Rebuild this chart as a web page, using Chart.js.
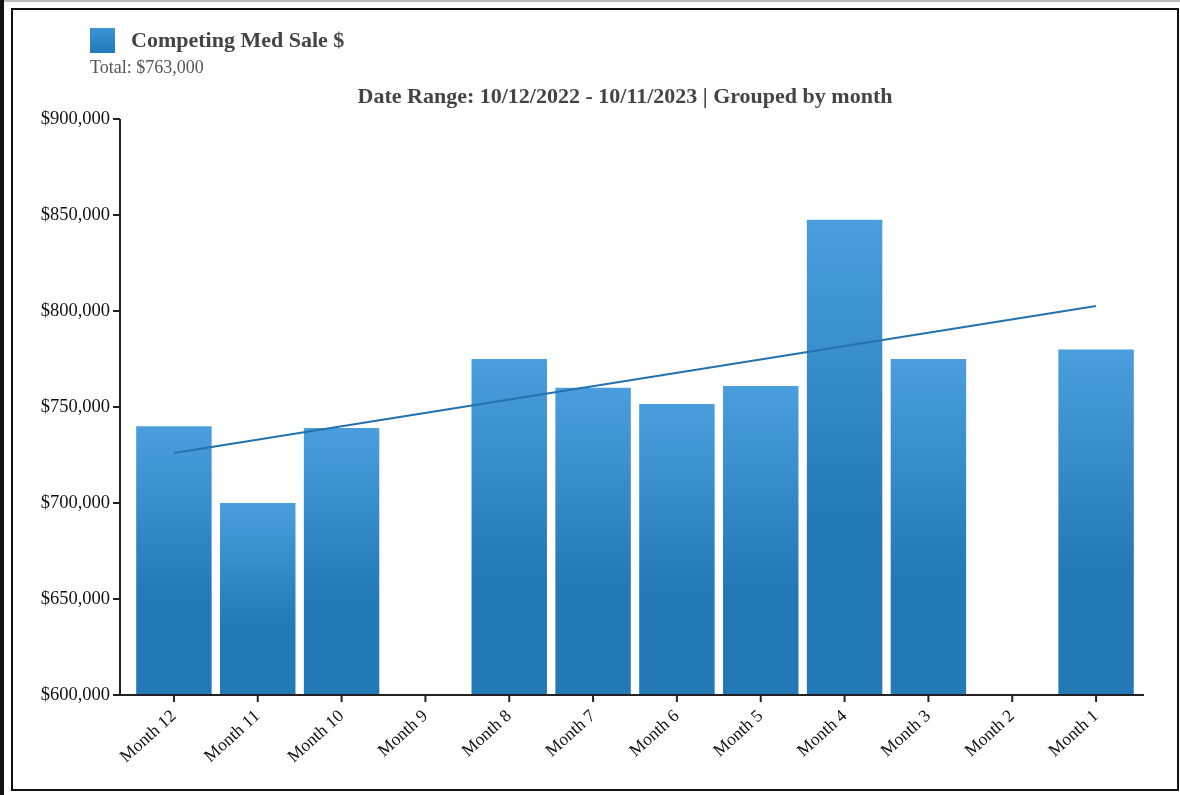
<!DOCTYPE html>
<html>
<head>
<meta charset="utf-8">
<script src="https://cdn.jsdelivr.net/npm/chart.js@4.4.1/dist/chart.umd.min.js"></script>
<style>
  html, body { margin: 0; padding: 0; background: #fff; }
  body { width: 1180px; height: 795px; position: relative; overflow: hidden; font-family: "Liberation Serif", "Times New Roman", serif; }
  #leftbar { position: absolute; left: 0; top: 0; width: 4px; height: 795px; background: #111; }
  #topline { position: absolute; left: 0; top: 0; width: 1180px; height: 2px; background: #bbb; }
  #frame { position: absolute; left: 11px; top: 8px; width: 1164px; height: 779px; border: 2px solid #111; }
  #chart { position: absolute; left: 0; top: 0; }
  .legend { position: absolute; left: 90px; top: 27px; display: flex; align-items: center; }
  .legend .box { width: 25px; height: 25px; background: linear-gradient(#3c94d6, #2279b8); margin-right: 16px; }
  .legend .name { font-weight: bold; font-size: 22px; color: #444; }
  .total { position: absolute; left: 90px; top: 57px; font-size: 18px; color: #555; }
  .range { position: absolute; left: 0; width: 1250px; top: 83px; text-align: center; font-weight: bold; font-size: 22px; color: #444; }
</style>
</head>
<body>
<div id="topline"></div>
<div id="leftbar"></div>
<div id="frame"></div>
<canvas id="chart" width="1180" height="795"></canvas>
<div class="legend"><div class="box"></div><div class="name">Competing Med Sale $</div></div>
<div class="total">Total: $763,000</div>
<div class="range">Date Range: 10/12/2022 - 10/11/2023 | Grouped by month</div>
<script>
const months = ["Month 12", "Month 11", "Month 10", "Month 9", "Month 8", "Month 7",
                "Month 6", "Month 5", "Month 4", "Month 3", "Month 2", "Month 1"];
const sales = [740000, 700000, 739000, null, 775000, 760000,
               751500, 761000, 847500, 775000, null, 780000];
// trend line, read at its two ends
const trend = [726000, null, null, null, null, null, null, null, null, null, null, 802600];
const yTicks = [600000, 650000, 700000, 750000, 800000, 850000, 900000];

const money = (v) => "$" + v.toLocaleString("en-US");

// axis lines and tick marks sit a little outside the bar area, like the original
const axisPlugin = {
    id: "axisLines",
    afterDraw(chart) {
        const { ctx, chartArea } = chart;
        const x = chart.scales.x, y = chart.scales.y;
        const left = chartArea.left - 12, right = chartArea.right + 6;
        ctx.save();
        ctx.strokeStyle = "#222";
        ctx.lineWidth = 2;
        ctx.beginPath();
        ctx.moveTo(left, chartArea.top);
        ctx.lineTo(left, chartArea.bottom);
        ctx.lineTo(right, chartArea.bottom);
        yTicks.forEach(v => {
            const py = y.getPixelForValue(v);
            ctx.moveTo(left - 7, py);
            ctx.lineTo(left, py);
        });
        months.forEach((m, i) => {
            const px = x.getPixelForValue(i);
            ctx.moveTo(px, chartArea.bottom);
            ctx.lineTo(px, chartArea.bottom + 7);
        });
        ctx.stroke();
        ctx.restore();
    }
};

const barFill = (context) => {
    const chart = context.chart;
    const area = chart.chartArea;
    const v = context.raw;
    if (!area || v == null) return "#2a7fbe";
    const top = chart.scales.y.getPixelForValue(v);
    const g = chart.ctx.createLinearGradient(0, top, 0, area.bottom);
    g.addColorStop(0, "#4a9edd");
    g.addColorStop(0.65, "#2279b5");
    g.addColorStop(1, "#2279b5");
    return g;
};

new Chart(document.getElementById("chart").getContext("2d"), {
    type: "bar",
    data: {
        labels: months,
        datasets: [
            {
                type: "line",
                label: "Trend",
                data: trend,
                spanGaps: true,
                borderColor: "#2472ad",
                borderWidth: 2,
                pointRadius: 0,
                fill: false,
                order: 0
            },
            {
                label: "Competing Med Sale $",
                data: sales,
                backgroundColor: barFill,
                categoryPercentage: 1,
                barPercentage: 0.9,
                order: 1
            }
        ]
    },
    options: {
        responsive: false,
        animation: false,
        layout: { padding: { left: 0, right: 42, top: 119, bottom: 0 } },
        plugins: {
            legend: { display: false },
            title: { display: false },
            tooltip: { enabled: false }
        },
        scales: {
            x: {
                offset: true,
                grid: { display: false, drawTicks: false },
                border: { display: false },
                ticks: {
                    color: "#111",
                    padding: 11,
                    minRotation: 42,
                    maxRotation: 42,
                    autoSkip: false,
                    font: { family: "Liberation Serif", size: 17.5 }
                },
                afterFit: (scale) => { scale.height = 100; }
            },
            y: {
                min: 600000,
                max: 900000,
                afterBuildTicks: (scale) => { scale.ticks = yTicks.map(v => ({ value: v })); },
                grid: { display: false, drawTicks: false },
                border: { display: false },
                ticks: {
                    color: "#111",
                    padding: 22,
                    font: { family: "Liberation Serif", size: 18.5 },
                    callback: (v) => money(v)
                },
                afterFit: (scale) => { scale.width = 132; }
            }
        }
    },
    plugins: [axisPlugin]
});
</script>
</body>
</html>
